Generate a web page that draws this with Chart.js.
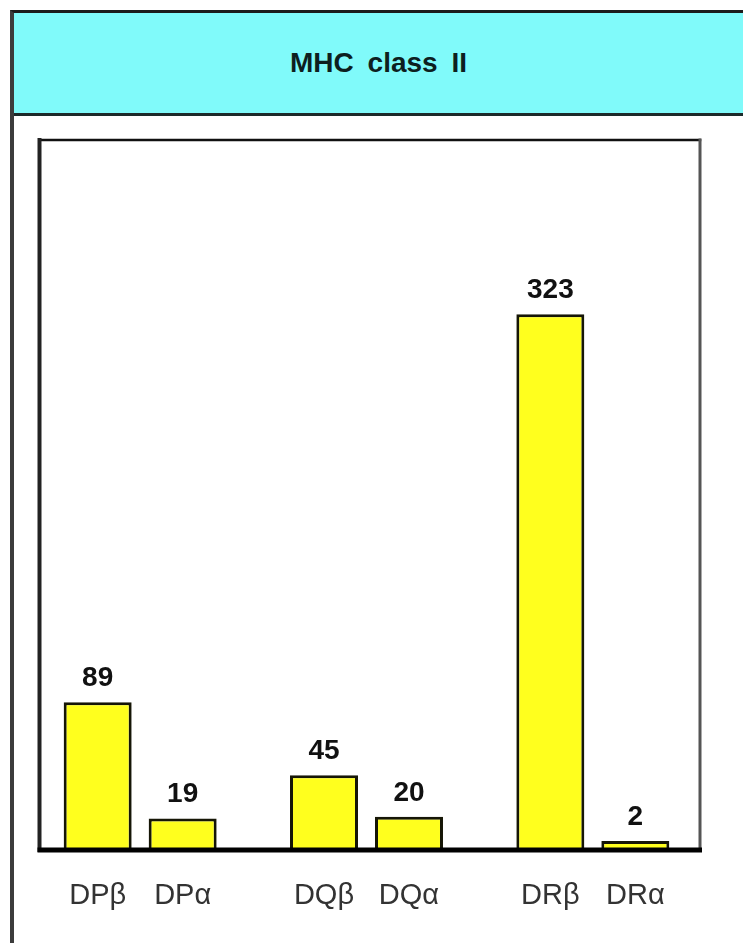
<!DOCTYPE html>
<html>
<head>
<meta charset="utf-8">
<title>MHC class II</title>
<script src="https://cdn.jsdelivr.net/npm/chart.js@4/dist/chart.umd.min.js"></script>
<style>
    html, body { margin: 0; padding: 0; background: #fff; }
    body { width: 743px; height: 943px; position: relative; overflow: hidden; }
    #chart { position: absolute; left: 0; top: 0; }
    .frame {
        position: absolute; left: 10px; top: 10px; right: 0; bottom: 0;
        border-left: 4px solid #3c3c3c; border-top: 3px solid #1c1c1c;
        pointer-events: none;
    }
    .frame .header {
        height: 100px; background: #80fafa; border-bottom: 3px solid #1c2a2a;
        display: flex; align-items: center; justify-content: center;
        font: bold 28px "Liberation Sans", Arial, sans-serif; color: #0d1f1f;
        word-spacing: 6px;
    }
</style>
</head>
<body>
<canvas id="chart" width="743" height="943"></canvas>
<div class="frame"><div class="header">MHC class II</div></div>
<script>
"use strict";

// loci on the x axis, one group each
var loci = ["DP", "DQ", "DR"];
// chain names, in the order the bars sit inside a group
var chains = ["\u03b2", "\u03b1"];
// counts
var betaCounts = [89, 45, 323];
var alphaCounts = [19, 20, 2];
// top of the value axis
var yMax = 428;

// the drawn box sits a little inside the scale's range on the sides
var boxInsetLeft = 12.5;
var boxInsetRight = 6;

/**
 * Draws the box round the plot, the count above each bar and
 * the locus + chain name under it.
 */
var barTextPlugin = {
    id: "barText",
    beforeDatasetsDraw: function (chart) {
        var ctx = chart.ctx;
        var area = chart.chartArea;
        var left = area.left + boxInsetLeft;
        var right = area.right - boxInsetRight;
        ctx.save();
        ctx.lineCap = "square";
        // top
        ctx.strokeStyle = "#111";
        ctx.lineWidth = 2.5;
        ctx.beginPath();
        ctx.moveTo(left, area.top);
        ctx.lineTo(right, area.top);
        ctx.stroke();
        // right
        ctx.strokeStyle = "#555";
        ctx.lineWidth = 3;
        ctx.beginPath();
        ctx.moveTo(right, area.top);
        ctx.lineTo(right, area.bottom);
        ctx.stroke();
        // left
        ctx.strokeStyle = "#222";
        ctx.lineWidth = 4;
        ctx.beginPath();
        ctx.moveTo(left, area.top);
        ctx.lineTo(left, area.bottom);
        ctx.stroke();
        ctx.restore();
    },
    afterDatasetsDraw: function (chart) {
        var ctx = chart.ctx;
        var area = chart.chartArea;
        ctx.save();
        // base line
        ctx.strokeStyle = "#000";
        ctx.lineWidth = 5;
        ctx.beginPath();
        ctx.moveTo(area.left + boxInsetLeft - 2, area.bottom);
        ctx.lineTo(area.right - boxInsetRight + 2, area.bottom);
        ctx.stroke();

        ctx.textAlign = "center";
        ctx.textBaseline = "alphabetic";
        chart.data.datasets.forEach(function (dataset, d) {
            var meta = chart.getDatasetMeta(d);
            meta.data.forEach(function (bar, i) {
                ctx.fillStyle = "#111";
                ctx.font = "bold 28px 'Liberation Sans', Arial, sans-serif";
                ctx.fillText(String(dataset.data[i]), bar.x, bar.y - 16);

                ctx.fillStyle = "#333";
                ctx.font = "29px 'Liberation Sans', Arial, sans-serif";
                ctx.fillText(loci[i] + chains[d], bar.x, area.bottom + 54);
            });
        });
        ctx.restore();
    }
};

var config = {
    type: "bar",
    data: {
        labels: loci,
        datasets: [{
            label: chains[0],
            data: betaCounts,
            backgroundColor: "#ffff1e",
            borderColor: "#161606",
            borderWidth: 3,
            minBarLength: 9,
            categoryPercentage: 0.751,
            barPercentage: 0.8
        }, {
            label: chains[1],
            data: alphaCounts,
            backgroundColor: "#ffff1e",
            borderColor: "#161606",
            borderWidth: 3,
            minBarLength: 9,
            categoryPercentage: 0.751,
            barPercentage: 0.8
        }]
    },
    plugins: [barTextPlugin],
    options: {
        responsive: false,
        animation: false,
        devicePixelRatio: 1,
        layout: {
            padding: { left: 27, top: 140, right: 37, bottom: 93 }
        },
        scales: {
            x: { display: false },
            y: { display: false, min: 0, max: yMax }
        },
        plugins: {
            legend: { display: false },
            tooltip: { enabled: false },
            title: { display: false }
        }
    }
};

new Chart(document.getElementById("chart"), config);
</script>
</body>
</html>
